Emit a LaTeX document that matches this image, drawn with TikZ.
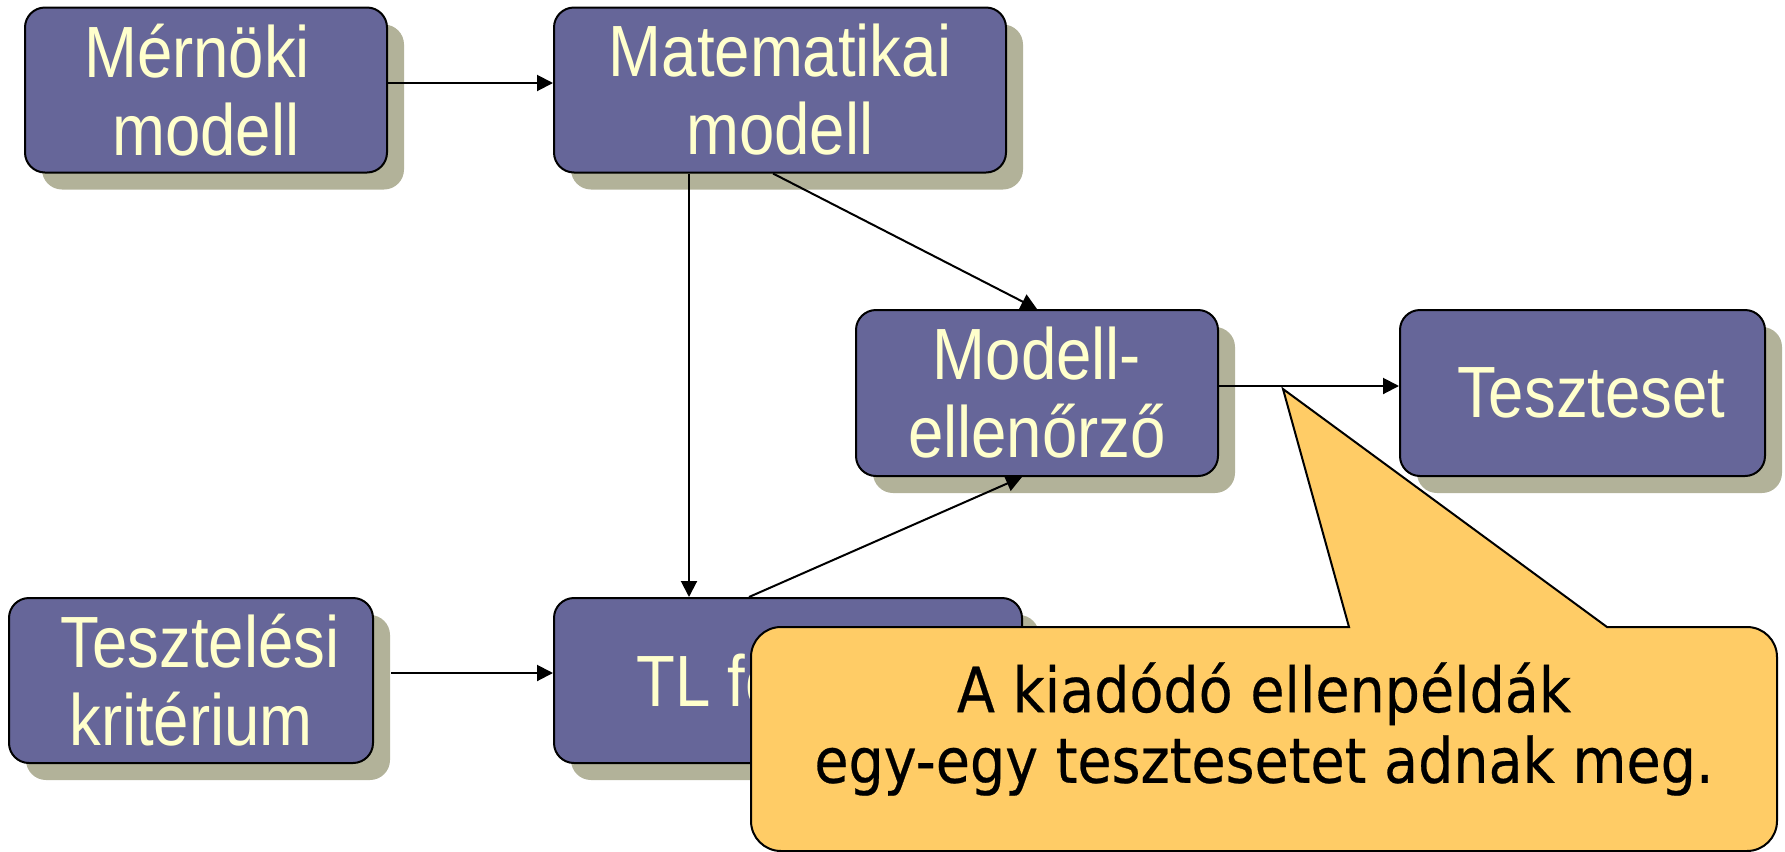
\documentclass[tikz,border=0pt]{standalone}
\usepackage{fontspec}
\usetikzlibrary{arrows.meta,shadows}
\newfontfamily\boxfont[FakeStretch=0.875]{Liberation Sans}
\newfontfamily\calfont[FakeStretch=0.89,FakeBold=0.4]{DejaVu Sans}
\definecolor{boxfill}{HTML}{666699}
\definecolor{boxtext}{HTML}{FFFFCC}
\definecolor{shad}{HTML}{B2B299}
\definecolor{calfill}{HTML}{FFCC66}
\newcommand{\myspc}{\hbox{\ }}
\tikzset{
  blk/.style={draw=black, line width=1pt, fill=boxfill, rounded corners=10pt,
    text=boxtext, align=center, inner sep=0pt,
    font=\boxfont\fontsize{36.3}{39}\selectfont,
    drop shadow={shadow xshift=8.5pt, shadow yshift=-8.5pt, fill=shad, opacity=1}},
  arr/.style={line width=1pt, -{Triangle[length=8pt,width=8pt]}},
  callout/.style={draw=black, line width=1pt, fill=calfill}
}
\begin{document}
\begin{tikzpicture}[x=0.5pt,y=-0.5pt]
\useasboundingbox (0,0) rectangle (1785,852);
\node[blk, minimum width=181pt, minimum height=82.5pt] (mernoki) at (206,90) {Mérnöki\myspc\\modell};
\node[blk, minimum width=226pt, minimum height=82.5pt] (matek) at (780,90) {Matematikai\\modell};
\node[blk, minimum width=181pt, minimum height=83pt] (modell) at (1037,393) {Modell-\\ellenőrző};
\node[blk, minimum width=182.5pt, minimum height=83pt] (teszt) at (1582.5,393) {\myspc Teszteset};
\node[blk, minimum width=182pt, minimum height=82.5pt] (krit) at (191,680.5) {\myspc Tesztelési\\kritérium};
\node[blk, minimum width=234pt, minimum height=82.5pt] (tl) at (788,680.5) {TL formula};

\draw[arr] ([yshift=3.5pt]mernoki.east) -- ([yshift=3.5pt]matek.west);
\draw[arr] ([xshift=-45.5pt]matek.south) -- ([xshift=-45.5pt]matek.south |- tl.north);
\draw[arr] ([xshift=-3.5pt]matek.south) -- (modell.north);
\draw[arr] ([xshift=-19.5pt]tl.north) -- ([xshift=-7.5pt]modell.south);
\draw[arr] ([yshift=3.5pt]modell.east) -- ([yshift=3.5pt]teszt.west);
\draw[arr] ([xshift=8.5pt,yshift=3.75pt]krit.east) -- ([yshift=3.75pt]tl.west);

\coordinate (tip) at (1283,389);
\draw[callout] (1700,627) [rounded corners=15pt] -- (1777,627) -- (1777,851) -- (751,851) -- (751,627) [sharp corners] -- (1349,627) -- (tip) -- (1607,627) -- cycle;
\node[font=\calfont\fontsize{31.2}{35.3}\selectfont, align=center, inner sep=0pt] (caltext) at (1264,729) {A kiadódó ellenpéldák\\egy-egy tesztesetet adnak meg.};
\end{tikzpicture}
\end{document}
